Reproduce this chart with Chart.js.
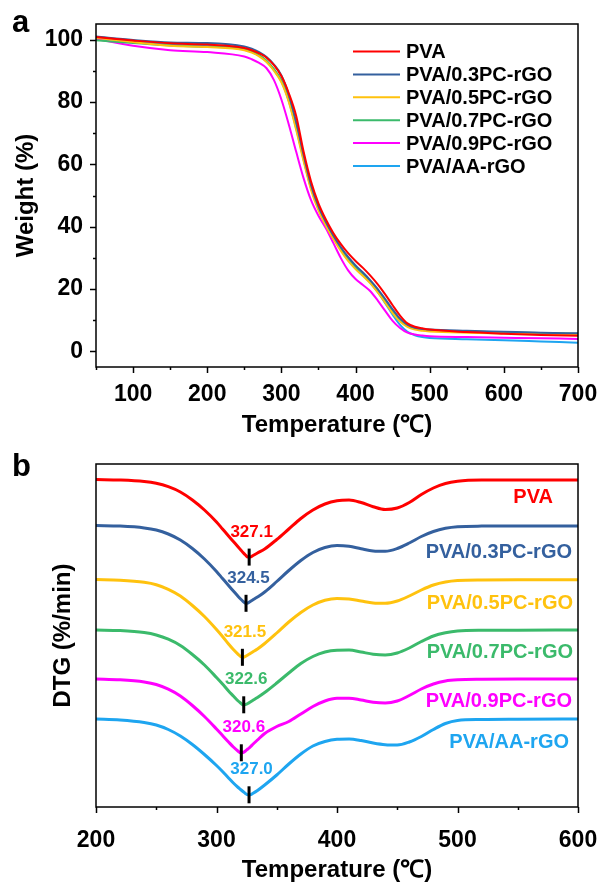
<!DOCTYPE html>
<html>
<head>
<meta charset="utf-8">
<script src="https://cdn.jsdelivr.net/npm/chart.js@4.4.1/dist/chart.umd.min.js"></script>
<style>
  html,body{margin:0;padding:0;background:#fff;}
  #w1{position:absolute;left:0;top:0;width:600px;height:440px;}
  #w2{position:absolute;left:0;top:440px;width:600px;height:445px;}
</style>
</head>
<body>
<div id="w1"><canvas id="c1" width="600" height="440"></canvas></div>
<div id="w2"><canvas id="c2" width="600" height="445"></canvas></div>
<script>
// ---------------- DATA ----------------
const seriesNames = ['PVA','PVA/0.3PC-rGO','PVA/0.5PC-rGO','PVA/0.7PC-rGO','PVA/0.9PC-rGO','PVA/AA-rGO'];

// (a) TGA: temperature (°C) and weight (%)
const tgaTemps = [50,100,150,200,250,260,270,280,290,300,310,320,330,340,350,360,370,380,390,400,410,420,430,440,450,460,470,480,490,500,550,600,650,700];
const wPVA  = [100.8,99.7,98.8,98.4,97.3,96.6,95.6,94.2,91.8,88.3,82.8,75.5,64.0,54.5,47.5,42.3,38.0,34.5,31.5,29.0,26.8,24.3,21.5,18.3,14.8,11.5,9.0,7.9,7.4,7.0,6.2,5.7,5.3,5.0];
const wPC03 = [101.0,99.9,99.1,98.9,97.8,97.1,96.0,94.4,92.0,88.5,82.3,73.5,63.0,53.3,46.5,41.5,37.2,33.5,30.3,27.6,25.3,22.8,20.0,16.8,13.5,10.5,8.6,7.6,7.2,7.0,6.6,6.3,6.0,5.8];
const wPC05 = [100.6,99.2,98.0,97.6,96.6,95.8,94.6,92.8,90.0,86.3,80.0,71.0,61.0,51.8,45.2,40.3,36.1,32.3,29.0,26.4,24.2,21.8,18.9,15.6,12.3,9.6,7.9,7.0,6.6,6.4,6.0,5.8,5.6,5.4];
const wPC07 = [99.8,98.9,98.1,97.7,96.9,96.1,95.0,93.2,90.5,87.0,80.8,72.0,62.0,52.7,46.0,41.0,36.8,33.0,29.9,27.2,25.0,22.5,19.6,16.3,13.0,10.1,8.3,7.3,6.9,6.7,6.4,6.1,5.9,5.7];
const wPC09 = [100.2,98.0,96.6,96.0,94.6,93.7,92.5,90.8,87.0,80.8,72.8,64.0,55.5,48.5,43.5,39.5,34.8,30.0,26.0,23.2,21.3,19.3,16.3,13.0,9.8,7.5,6.0,5.4,5.1,4.9,4.6,4.4,4.2,4.0];
const wAA   = [100.5,99.4,98.4,98.0,96.9,96.1,94.9,93.0,90.2,86.6,80.3,71.5,61.5,52.3,45.7,40.8,36.6,32.8,29.5,26.8,24.6,22.0,19.0,15.5,11.8,8.5,6.3,5.2,4.6,4.3,3.9,3.6,3.2,2.8];

// (b) DTG (relative units, each curve vertically offset)
const dtgTemps = [200,220,240,250,260,270,280,290,300,305,310,314,318,320,322,324,326,328,330,334,340,350,360,370,380,390,400,410,420,430,440,450,460,470,480,490,500,520,550,600];
const dPVA  = [0,-0.05,-0.2,-0.38,-0.72,-1.25,-2.05,-3.05,-4.25,-4.95,-5.65,-6.2,-6.75,-7.02,-7.3,-7.55,-7.76,-7.76,-7.62,-7.35,-6.95,-6.0,-4.95,-3.9,-3.05,-2.45,-2.12,-2.05,-2.3,-2.72,-3.0,-2.85,-2.3,-1.5,-0.85,-0.4,-0.18,-0.06,-0.05,-0.05];
const dPC03 = [0,-0.06,-0.24,-0.45,-0.85,-1.45,-2.3,-3.35,-4.6,-5.3,-6.0,-6.55,-7.1,-7.35,-7.58,-7.78,-7.75,-7.6,-7.45,-7.15,-6.65,-5.6,-4.5,-3.5,-2.7,-2.2,-2.0,-2.08,-2.33,-2.55,-2.58,-2.3,-1.75,-1.1,-0.6,-0.28,-0.12,-0.06,-0.05,-0.05];
const dPC05 = [0,-0.07,-0.28,-0.52,-0.98,-1.65,-2.6,-3.7,-5.0,-5.7,-6.45,-7.0,-7.48,-7.7,-7.78,-7.68,-7.55,-7.4,-7.25,-6.95,-6.4,-5.35,-4.25,-3.3,-2.55,-2.08,-1.9,-1.95,-2.15,-2.35,-2.38,-2.15,-1.65,-1.05,-0.55,-0.25,-0.1,-0.04,-0.03,-0.03];
const dPC07 = [0,-0.06,-0.26,-0.5,-0.92,-1.55,-2.45,-3.5,-4.75,-5.4,-6.1,-6.6,-7.1,-7.3,-7.48,-7.45,-7.35,-7.2,-7.05,-6.75,-6.25,-5.3,-4.3,-3.35,-2.65,-2.2,-2.02,-2.0,-2.2,-2.42,-2.5,-2.3,-1.8,-1.15,-0.6,-0.28,-0.1,-0.03,-0.02,0];
const dPC09 = [0,-0.08,-0.3,-0.55,-1.02,-1.7,-2.65,-3.75,-5.0,-5.65,-6.3,-6.8,-7.22,-7.38,-7.35,-7.2,-7.0,-6.8,-6.55,-6.1,-5.45,-4.75,-4.25,-3.5,-2.75,-2.2,-1.93,-1.92,-2.1,-2.32,-2.4,-2.2,-1.65,-1.0,-0.5,-0.2,-0.08,-0.02,0,0];
const dAA   = [0,-0.1,-0.35,-0.6,-1.05,-1.7,-2.55,-3.55,-4.65,-5.25,-5.9,-6.4,-6.85,-7.05,-7.25,-7.45,-7.58,-7.58,-7.45,-7.15,-6.6,-5.6,-4.5,-3.5,-2.7,-2.25,-2.03,-2.0,-2.15,-2.4,-2.57,-2.6,-2.3,-1.75,-1.05,-0.45,-0.15,-0.05,-0.02,0];
const dtgOffsets = [0,-4.6,-10.0,-15.05,-19.95,-23.95];

// DTG peak temperatures (°C) and DTG value at the peak
const peakTemps  = [327.1,324.5,321.5,322.6,320.6,327.0];
const peakLabels = ['327.1','324.5','321.5','322.6','320.6','327.0'];
const peakDTG    = [-7.76,-7.78,-7.78,-7.48,-7.38,-7.58];

// tick labels
const tgaXTicks = [100,200,300,400,500,600,700];
const tgaYTicks = [0,20,40,60,80,100];
const dtgXTicks = [200,300,400,500,600];

// ---------------- STYLE ----------------
const colors = ['#FF0000','#34609E','#FFC20E','#3BBA6B','#FF00FF','#1EA5F0'];
const FONT = '"Liberation Sans", Arial, sans-serif';
Chart.defaults.font.family = FONT;
Chart.defaults.color = '#000';

const tgaSeries = [wPVA,wPC03,wPC05,wPC07,wPC09,wAA];
const dtgSeries = [dPVA,dPC03,dPC05,dPC07,dPC09,dAA];

// name-label placement in panel b (right inset px, vertical offset px below baseline)
const nameStyle = [[25,17],[6,26],[5,23],[5,21],[6,21],[9,22]];

const frameTicks = {
  id:'frameTicks',
  afterDraw(chart, args, o){
    const {ctx, chartArea:a, scales} = chart;
    ctx.save();
    ctx.strokeStyle = '#000';
    ctx.lineWidth = 1.5;
    ctx.strokeRect(a.left, a.top, a.right-a.left, a.bottom-a.top);
    const xs = scales.x;
    for (let v = xs.min; v <= xs.max + 1e-6; v += o.xMinor) {
      const px = Math.round(xs.getPixelForValue(v)) + 0.5;
      const len = (Math.abs(v % o.xMajor) < 1e-6) ? 6 : 3;
      ctx.beginPath(); ctx.moveTo(px, a.bottom); ctx.lineTo(px, a.bottom + len); ctx.stroke();
    }
    if (o.yMinor) {
      const ys = scales.y;
      for (let v = o.yStart; v <= o.yEnd + 1e-6; v += o.yMinor) {
        const py = Math.round(ys.getPixelForValue(v)) + 0.5;
        const len = (Math.abs(v % o.yMajor) < 1e-6) ? 6 : 3;
        ctx.beginPath(); ctx.moveTo(a.left, py); ctx.lineTo(a.left - len, py); ctx.stroke();
      }
    }
    ctx.restore();
  }
};

const panelLetter = {
  id:'panelLetter',
  afterDraw(chart, args, o){
    const ctx = chart.ctx;
    ctx.save();
    ctx.font = 'bold 31px ' + FONT;
    ctx.fillStyle = '#000';
    ctx.textBaseline = 'alphabetic';
    ctx.fillText(o.text, o.x, o.y);
    ctx.restore();
  }
};

const tgaLegend = {
  id:'tgaLegend',
  afterDraw(chart){
    const ctx = chart.ctx;
    ctx.save();
    ctx.font = 'bold 20px ' + FONT;
    ctx.textBaseline = 'middle';
    chart.data.datasets.forEach((ds, i) => {
      const y = 51.5 + i * 22.9;
      ctx.strokeStyle = ds.borderColor;
      ctx.lineWidth = 2;
      ctx.beginPath(); ctx.moveTo(353, y); ctx.lineTo(400, y); ctx.stroke();
      ctx.fillStyle = '#000';
      ctx.fillText(ds.label, 406, y + 1);
    });
    ctx.restore();
  }
};

const dtgLabels = {
  id:'dtgLabels',
  afterDatasetsDraw(chart){
    const {ctx, chartArea:a, scales} = chart;
    ctx.save();
    const meta = chart.getDatasetMeta(chart.data.datasets.length - 1);
    ctx.font = 'bold 17px ' + FONT;
    ctx.textAlign = 'center';
    ctx.textBaseline = 'middle';
    meta.data.forEach((pt, i) => {
      ctx.fillStyle = colors[i];
      ctx.fillText(peakLabels[i], pt.x + 2.5, pt.y - 25);
    });
    ctx.font = 'bold 20px ' + FONT;
    ctx.textAlign = 'right';
    seriesNames.forEach((n, i) => {
      const y = scales.y.getPixelForValue(dtgOffsets[i]) + nameStyle[i][1];
      ctx.fillStyle = colors[i];
      ctx.fillText(n, a.right - nameStyle[i][0], y + 1);
    });
    ctx.restore();
  }
};

const tickFont = {size:23, weight:'bold', family:FONT};
const titleFont = {size:24, weight:'bold', family:FONT};

function fitX(h){ return s => { s.height = h; s.paddingLeft = 0; s.paddingRight = 0; }; }
function fitY(w){ return s => { s.width = w; s.paddingTop = 0; s.paddingBottom = 0; }; }

// ---------------- CHART (a) ----------------
new Chart(document.getElementById('c1'), {
  type:'line',
  data:{
    datasets: tgaSeries.map((s, i) => ({
      label: seriesNames[i],
      data: tgaTemps.map((t, j) => ({x:t, y:s[j]})),
      borderColor: colors[i],
      borderWidth: 2,
      pointRadius: 0,
      cubicInterpolationMode: 'monotone',
      fill: false
    }))
  },
  options:{
    responsive:false, animation:false, devicePixelRatio:1,
    layout:{padding:{top:24, right:22, left:0, bottom:0}},
    plugins:{
      legend:{display:false}, tooltip:{enabled:false},
      frameTicks:{xMinor:50, xMajor:100, yMinor:10, yMajor:20, yStart:0, yEnd:100},
      panelLetter:{text:'a', x:12, y:32}
    },
    scales:{
      x:{
        type:'linear', min:50, max:700,
        afterFit: fitX(73),
        afterBuildTicks(s){ s.ticks = tgaXTicks.map(v => ({value:v})); },
        grid:{display:false}, border:{display:false},
        ticks:{autoSkip:false, maxRotation:0, padding:6, font:tickFont, color:'#000'},
        title:{display:true, text:'Temperature (℃)', font:titleFont, color:'#000', padding:{top:0, bottom:0}}
      },
      y:{
        min:-5, max:105,
        afterFit: fitY(96),
        afterBuildTicks(s){ s.ticks = tgaYTicks.map(v => ({value:v})); },
        grid:{display:false}, border:{display:false},
        ticks:{padding:5, font:tickFont, color:'#000'},
        title:{display:true, text:'Weight (%)', font:titleFont, color:'#000', padding:{top:12, bottom:0}}
      }
    }
  },
  plugins:[frameTicks, tgaLegend, panelLetter]
});

// ---------------- CHART (b) ----------------
const dtgDatasets = dtgSeries.map((s, i) => ({
  label: seriesNames[i],
  data: dtgTemps.map((t, j) => ({x:t, y:s[j] + dtgOffsets[i]})),
  borderColor: colors[i],
  borderWidth: 3,
  pointRadius: 0,
  cubicInterpolationMode: 'monotone',
  fill: false
}));
dtgDatasets.push({
  label:'peaks',
  data: peakTemps.map((t, i) => ({x:t, y:peakDTG[i] + dtgOffsets[i]})),
  showLine:false,
  pointStyle:'line',
  rotation:90,
  pointRadius:8.5,
  borderColor:'#000',
  backgroundColor:'#000',
  borderWidth:3,
  order:-1
});

new Chart(document.getElementById('c2'), {
  type:'line',
  data:{datasets: dtgDatasets},
  options:{
    responsive:false, animation:false, devicePixelRatio:1,
    layout:{padding:{top:24, right:22, left:0, bottom:0}},
    plugins:{
      legend:{display:false}, tooltip:{enabled:false},
      frameTicks:{xMinor:50, xMajor:100},
      panelLetter:{text:'b', x:12, y:36}
    },
    scales:{
      x:{
        type:'linear', min:200, max:600,
        afterFit: fitX(78),
        afterBuildTicks(s){ s.ticks = dtgXTicks.map(v => ({value:v})); },
        grid:{display:false}, border:{display:false},
        ticks:{autoSkip:false, maxRotation:0, padding:12, font:tickFont, color:'#000'},
        title:{display:true, text:'Temperature (℃)', font:titleFont, color:'#000', padding:{top:0, bottom:0}}
      },
      y:{
        min:-32.75, max:1.55,
        afterFit: fitY(96),
        grid:{display:false}, border:{display:false},
        ticks:{display:false},
        title:{display:true, text:'DTG (%/min)', font:titleFont, color:'#000', padding:{top:49, bottom:0}}
      }
    }
  },
  plugins:[frameTicks, dtgLabels, panelLetter]
});
</script>
</body>
</html>
